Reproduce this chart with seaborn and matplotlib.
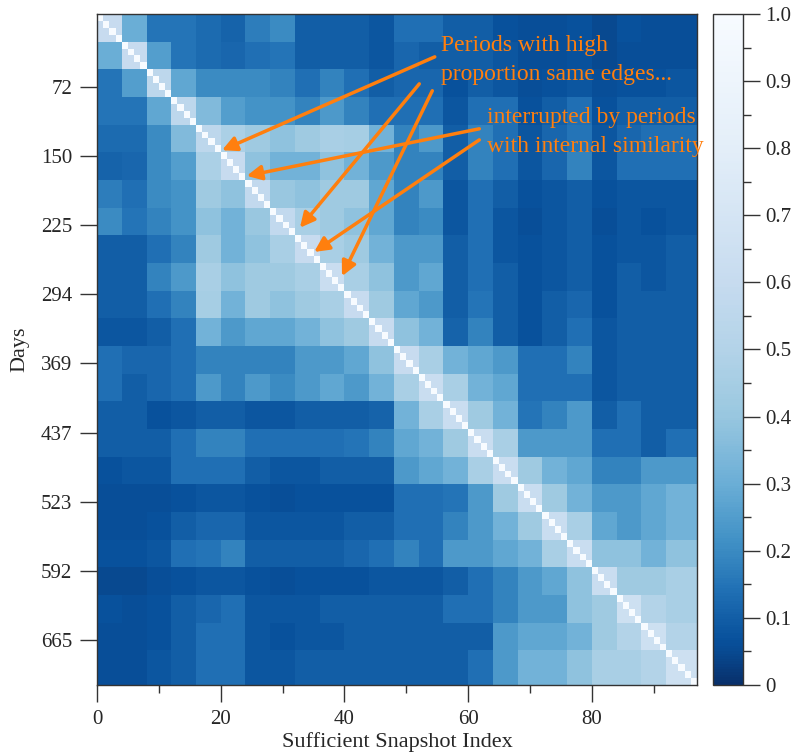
import numpy as np
import seaborn as sns
from matplotlib import pyplot as plt
from matplotlib.colors import ListedColormap
from matplotlib.ticker import MultipleLocator

sns.set_style("white")
plt.rcParams["font.family"] = ["Liberation Serif", "DejaVu Serif"]

# Snapshot similarity (%), read per block of 4 snapshots (last block 5), lower triangle
block_rows = [
    [60],
    [30, 60],
    [15, 25, 55],
    [15, 15, 28, 55],
    [13, 13, 20, 35, 55],
    [11, 12, 20, 25, 47, 60],
    [17, 14, 20, 22, 42, 38, 58],
    [20, 15, 18, 22, 38, 32, 40, 58],
    [10, 10, 14, 18, 42, 32, 38, 46, 60],
    [10, 10, 18, 24, 46, 38, 42, 42, 46, 62],
    [10, 10, 14, 18, 45, 32, 42, 38, 42, 46, 60],
    [8, 8, 10, 14, 32, 24, 28, 28, 32, 38, 42, 60],
    [14, 12, 12, 14, 18, 18, 18, 18, 24, 24, 28, 38, 60],
    [14, 10, 12, 14, 24, 18, 24, 20, 24, 28, 24, 32, 46, 62],
    [10, 10, 7, 8, 10, 10, 8, 8, 10, 10, 10, 11, 32, 46, 62],
    [10, 10, 10, 14, 18, 18, 14, 14, 14, 14, 15, 18, 28, 32, 42, 62],
    [7, 8, 8, 14, 14, 14, 10, 8, 8, 10, 10, 10, 24, 28, 32, 46, 62],
    [6, 6, 6, 7, 8, 8, 7, 6, 7, 7, 7, 7, 14, 14, 15, 24, 42, 62],
    [6, 6, 7, 10, 12, 12, 8, 8, 8, 8, 10, 10, 14, 14, 18, 24, 32, 42, 62],
    [7, 7, 8, 14, 15, 18, 10, 10, 10, 10, 12, 14, 18, 14, 24, 24, 28, 32, 46, 62],
    [5, 5, 6, 7, 8, 8, 7, 6, 7, 7, 7, 8, 8, 8, 10, 14, 18, 24, 28, 38, 62],
    [7, 6, 7, 10, 12, 14, 8, 8, 8, 10, 10, 10, 10, 10, 14, 14, 18, 24, 24, 38, 42, 65],
    [6, 6, 7, 10, 14, 14, 8, 7, 8, 8, 10, 10, 10, 10, 10, 10, 24, 28, 28, 32, 42, 50, 65],
    [6, 6, 8, 10, 14, 14, 8, 8, 10, 10, 10, 10, 10, 10, 10, 14, 24, 32, 32, 38, 46, 46, 50, 65],
]
block_sizes = [4] * 23 + [5]

day_ticks = [10, 20, 30, 40, 50, 60, 70, 80, 90]
day_labels = [72, 150, 225, 294, 369, 437, 523, 592, 665]
index_ticks = [0, 20, 40, 60, 80]

blocks = np.zeros((len(block_rows), len(block_rows)))
for r, row in enumerate(block_rows):
    blocks[r, : len(row)] = row
blocks = np.tril(blocks) + np.tril(blocks, -1).T
sim = np.repeat(np.repeat(blocks, block_sizes, axis=0), block_sizes, axis=1) / 100
np.fill_diagonal(sim, 1.0)

# reversed Blues, stretched at the dark end like the original colour bar
grid = np.linspace(0, 1, 256)
stretch = np.interp(grid, [0, 0.05, 0.1, 0.2, 0.3, 0.4, 0.5, 0.6, 0.8, 1.0],
                    [0, 0.1, 0.18, 0.35, 0.5, 0.61, 0.69, 0.75, 0.9, 1.0])
cmap = ListedColormap(plt.cm.Blues_r(stretch))

fig = plt.figure(figsize=(7.94, 7.55), dpi=100)
ax = fig.add_axes([0.1222, 0.0927, 0.7557, 0.8888])
cax = fig.add_axes([0.898, 0.0927, 0.0378, 0.8888])

sns.heatmap(sim, cmap=cmap, vmin=0, vmax=1, ax=ax, cbar_ax=cax, square=False,
            xticklabels=False, yticklabels=False)

for spine in ax.spines.values():
    spine.set_visible(True)
    spine.set_color("#333333")
    spine.set_linewidth(1)

ax.set_xticks(index_ticks)
ax.set_xticklabels([str(t) for t in index_ticks])
ax.xaxis.set_minor_locator(MultipleLocator(10))
ax.set_yticks([t + 0.5 for t in day_ticks])
ax.set_yticklabels([str(d) for d in day_labels], rotation=0)
ax.tick_params(axis="both", which="major", direction="out", length=12, width=1,
               color="#333333", labelsize=15, pad=6, bottom=True, left=True)
ax.tick_params(axis="x", which="minor", direction="out", length=6, width=1,
               color="#333333", bottom=True)
ax.set_xlabel("Sufficient Snapshot Index", fontsize=16, labelpad=2)
ax.set_ylabel("Days", fontsize=16, labelpad=8)

cbar = ax.collections[0].colorbar
cbar.outline.set_linewidth(1)
cbar.outline.set_edgecolor("#333333")
cbar.set_ticks(np.round(np.arange(0, 1.01, 0.1), 1))
cbar.set_ticklabels(["0"] + [f"{v:.1f}" for v in np.arange(0.1, 1.01, 0.1)])
cax.yaxis.set_minor_locator(MultipleLocator(0.05))
cax.tick_params(which="major", length=12, width=1, color="#333333", labelsize=15, pad=4, right=True)
cax.tick_params(which="minor", length=6, width=1, color="#333333", right=True)

orange = "#ff7f0e"
ax.text(55.6, 3.1, "Periods with high\nproportion same edges...", color=orange,
        fontsize=17, ha="left", va="top", linespacing=1.5)
ax.text(63.0, 13.5, "interrupted by periods\nwith internal similarity", color=orange,
        fontsize=17, ha="left", va="top", linespacing=1.5)

arrows = [
    ((54.6, 6.2), (20.2, 19.7)),
    ((61.8, 16.6), (24.2, 23.4)),
    ((52.1, 10.1), (32.8, 30.9)),
    ((61.8, 18.2), (35.1, 34.4)),
    ((54.2, 11.1), (39.6, 37.9)),
]
for tail, head in arrows:
    ax.annotate("", xy=head, xytext=tail,
                arrowprops=dict(arrowstyle="-|>", color=orange, lw=2.5, mutation_scale=22,
                                shrinkA=0, shrinkB=0))

fig.savefig("out.png", dpi=100)
